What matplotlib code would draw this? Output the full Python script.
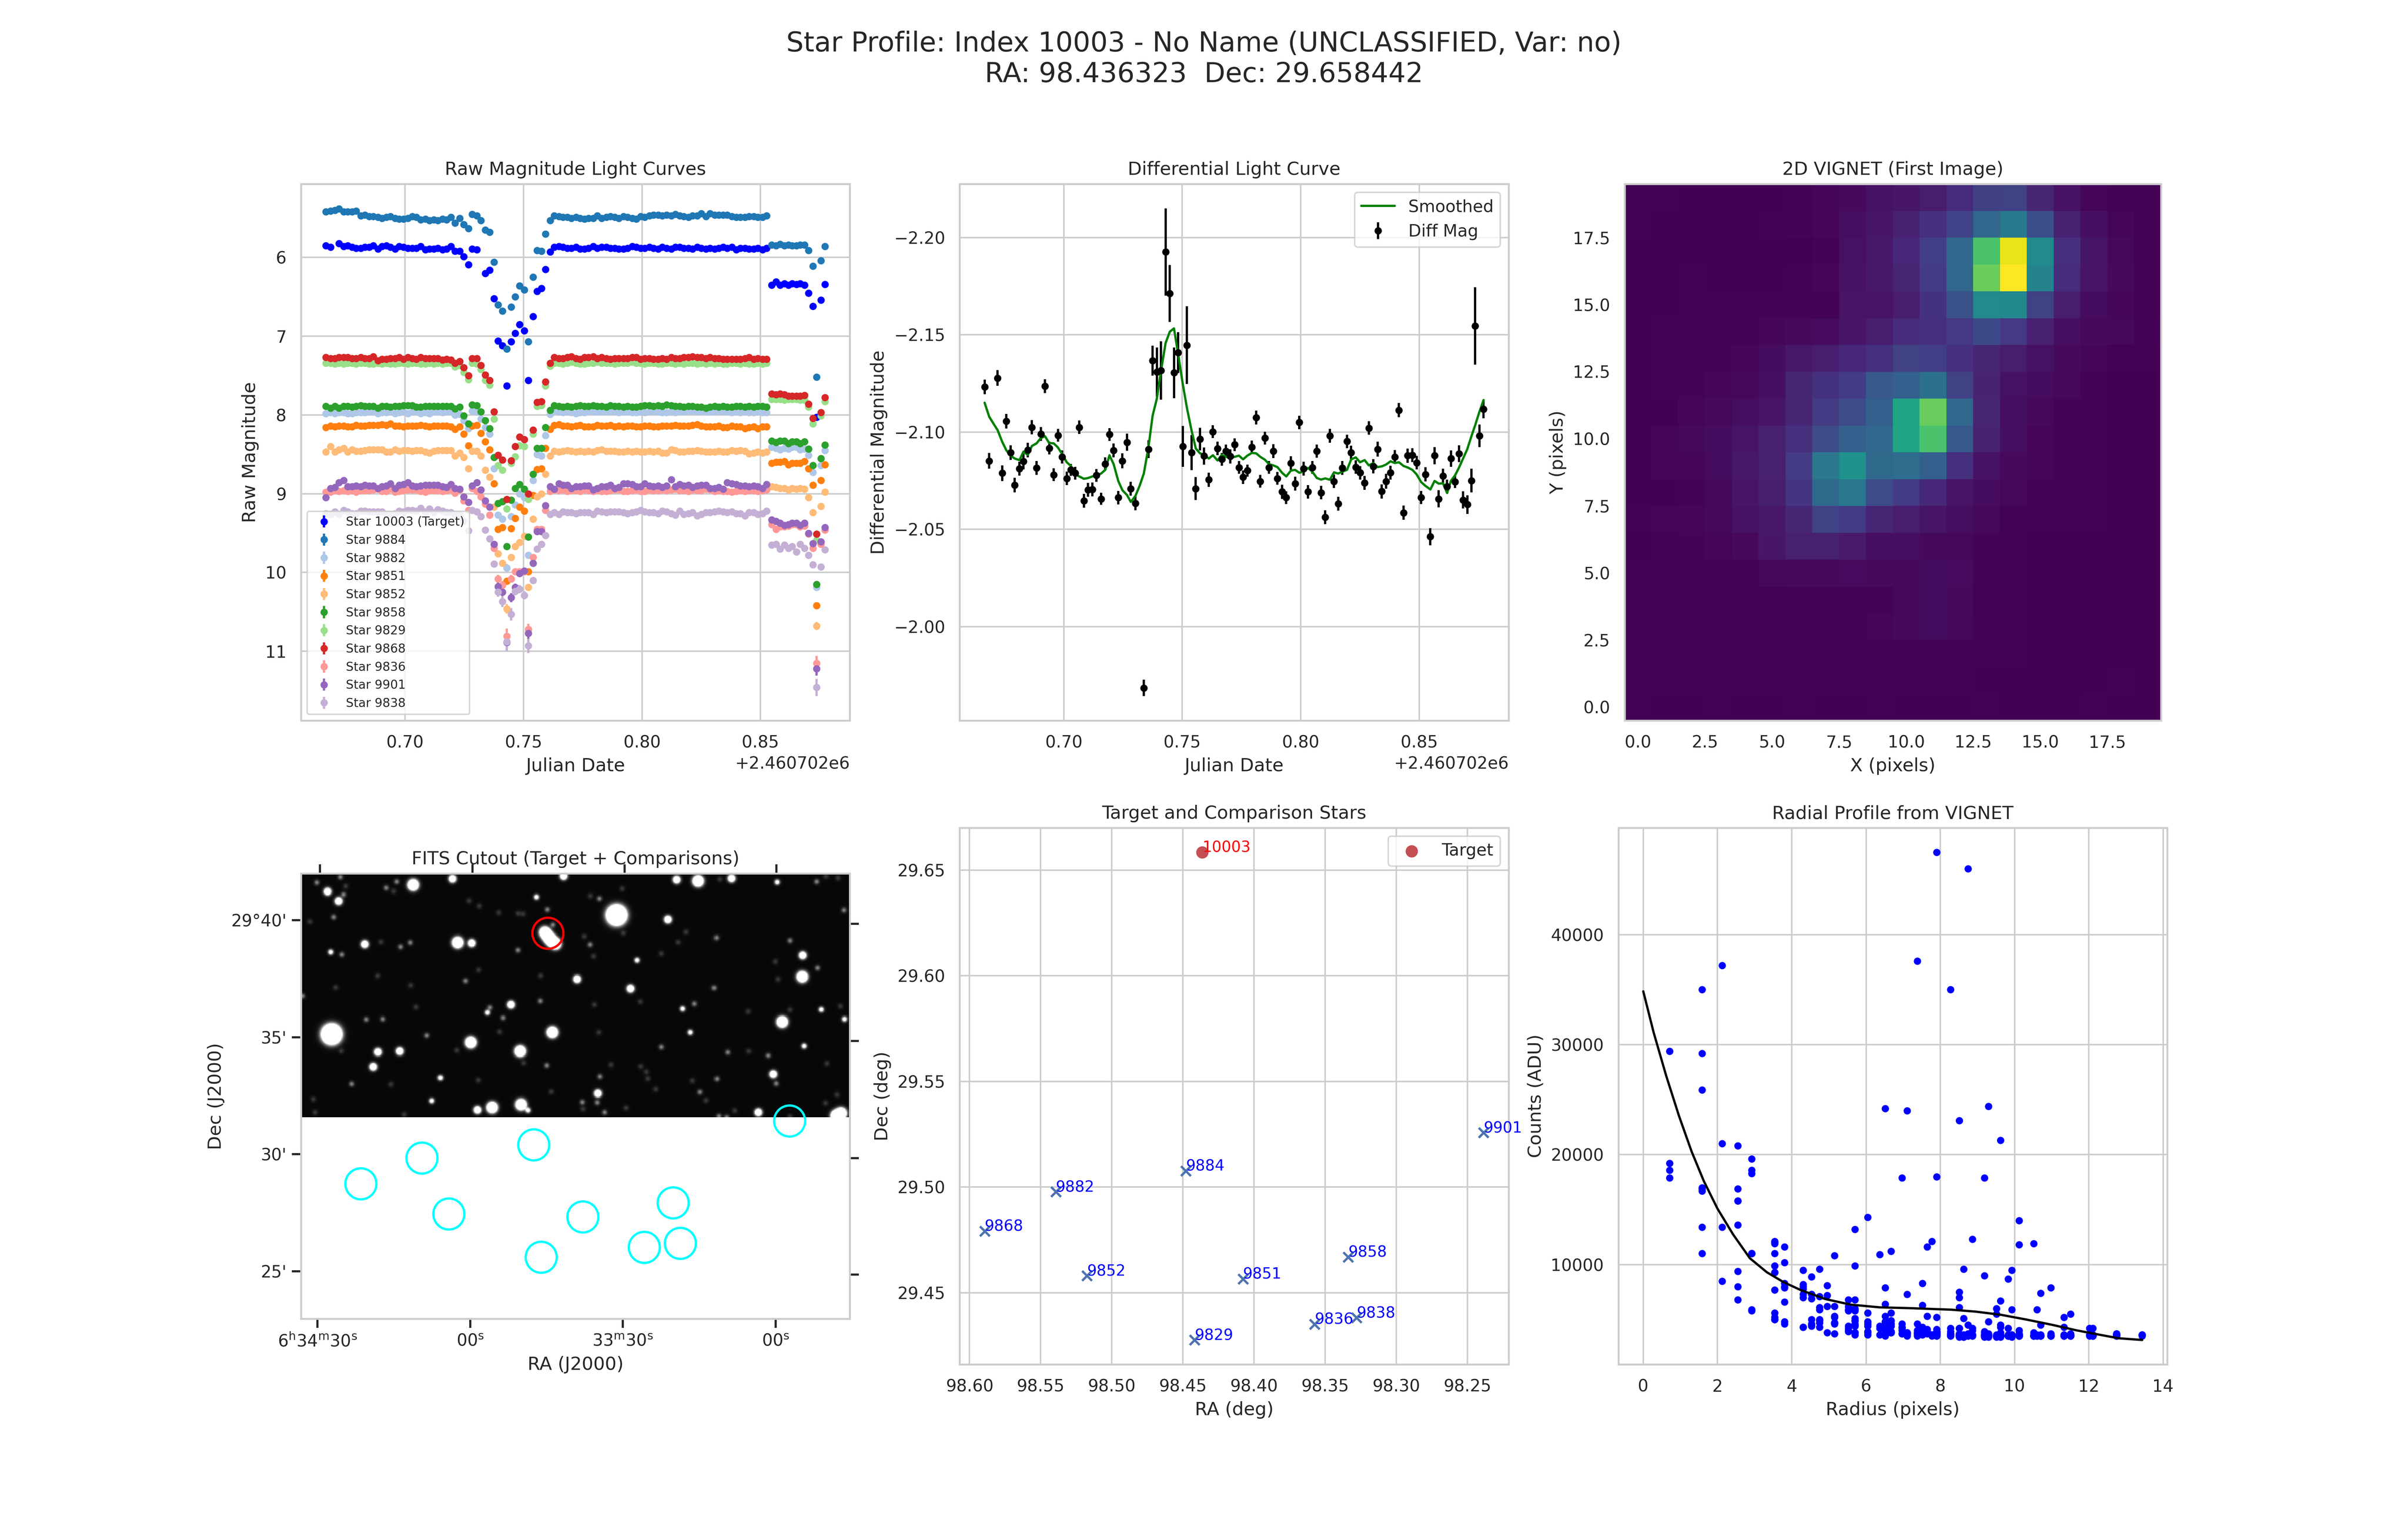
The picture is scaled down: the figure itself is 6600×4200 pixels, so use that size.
import numpy as np
import matplotlib
matplotlib.use('Agg')
import matplotlib.pyplot as plt
import seaborn as sns

nan = float('nan')

title_text = 'Star Profile: Index 10003 - No Name (UNCLASSIFIED, Var: no)\nRA: 98.436323  Dec: 29.658442'

# observation times, JD - 2460702
time = [
    .66657,.66851,.67029,.67206,.67400,.67577,.67754,.67931,.68125,.68302,
    .68479,.68656,.68850,.69027,.69204,.69381,.69576,.69752,.69929,.70124,
    .70301,.70478,.70654,.70849,.71026,.71203,.71380,.71574,.71751,.71928,
    .72105,.72299,.72476,.72671,.72830,.73024,.73201,.73378,.73573,.73749,
    .73926,.74103,.74298,.74475,.74651,.74828,.75023,.75200,.75394,.75571,
    .75748,.75925,.76119,.76296,.76491,.76668,.76845,.77022,.77216,.77393,
    .77570,.77747,.77941,.78118,.78295,.78489,.78666,.78843,.79020,.79214,
    .79391,.79586,.79763,.79940,.80116,.80311,.80488,.80682,.80859,.81036,
    .81231,.81408,.81584,.81761,.81956,.82133,.82327,.82504,.82699,.82875,
    .83070,.83247,.83424,.83601,.83795,.83972,.84149,.84343,.84520,.84715,
    .84892,.85086,.85263,.85475,.85652,.85829,.86006,.86183,.86342,.86519,
    .86678,.86855,.87032,.87209,.87368,.87545,.87722]

# raw magnitudes, one list per star
mag_10003 = [
    5.85,5.87,nan,5.82,5.86,5.85,5.87,5.88,5.88,5.87,
    5.87,5.85,5.89,5.86,5.85,5.87,5.89,5.86,5.87,5.88,
    5.88,5.88,5.86,5.90,5.89,5.89,5.88,5.90,5.89,5.86,
    5.92,5.92,5.99,6.09,5.89,5.90,nan,6.20,6.16,6.52,
    7.06,7.12,7.63,7.07,6.96,6.85,6.93,7.56,6.75,6.43,
    6.39,6.15,5.93,5.87,5.86,5.87,5.88,5.88,5.87,5.89,
    5.89,5.88,5.86,5.88,5.87,5.87,5.88,5.88,5.89,5.89,
    5.88,5.86,5.87,5.88,5.88,5.87,5.88,5.89,5.87,5.88,
    5.89,5.87,5.87,5.88,5.88,5.89,5.87,5.88,5.89,5.88,
    5.89,5.88,5.87,5.88,5.87,5.90,5.88,5.88,5.89,5.89,
    5.88,5.90,5.88,6.35,6.31,6.35,6.33,6.35,6.33,6.34,
    6.33,6.35,6.45,6.62,8.03,6.54,6.34]
mag_9884 = [
    5.42,5.41,5.40,5.38,5.42,5.42,5.42,5.41,5.47,5.46,
    5.48,5.48,5.49,5.50,5.49,5.48,5.50,5.51,5.51,5.50,
    5.48,5.49,5.52,5.51,5.53,5.52,5.53,5.51,5.52,5.49,
    5.56,5.50,5.58,5.63,5.45,5.47,5.53,5.65,5.68,6.06,
    6.60,6.68,7.16,6.63,6.50,6.36,6.41,7.07,6.25,5.91,
    5.92,5.70,5.53,5.47,5.48,5.49,5.49,5.50,5.49,5.50,
    5.51,5.50,5.50,5.47,5.50,5.49,5.48,5.49,5.50,5.48,
    5.49,5.50,5.51,5.48,5.49,5.47,5.46,5.46,5.47,5.46,
    5.47,5.45,5.47,5.48,5.49,5.47,5.47,5.44,5.48,5.44,
    5.46,5.46,5.46,5.46,5.48,5.49,5.49,5.49,5.48,5.48,
    5.49,5.49,5.47,5.84,5.85,5.83,5.85,5.84,5.85,5.85,
    5.84,5.84,5.91,6.11,7.52,6.04,5.86]
mag_9882 = [
    7.98,7.97,7.98,7.97,7.97,7.98,7.98,7.97,7.97,7.97,
    7.96,7.96,7.98,7.97,7.97,7.96,7.98,7.97,7.96,7.98,
    7.96,7.96,7.98,7.97,7.98,7.96,7.96,7.97,7.96,7.96,
    8.00,7.99,8.07,8.17,7.95,7.96,8.05,8.16,8.24,8.68,
    9.27,9.32,9.94,9.29,9.14,9.00,9.05,9.78,8.83,8.50,
    8.52,8.26,7.99,7.95,7.96,7.97,7.96,7.97,7.98,7.97,
    7.97,7.95,7.96,7.96,7.96,7.96,7.95,7.96,7.97,7.96,
    7.96,7.97,7.97,7.96,7.97,7.96,7.95,7.96,7.97,7.97,
    7.96,7.97,7.95,7.96,7.95,7.95,7.96,7.95,7.96,7.96,
    7.96,7.95,7.96,7.96,7.97,7.96,7.97,7.96,7.97,7.97,
    7.96,7.97,7.97,8.41,8.42,8.44,8.42,8.43,8.41,8.41,
    8.44,8.43,8.51,8.73,10.19,8.64,8.45]
mag_9851 = [
    8.16,8.14,8.15,8.14,8.14,8.15,8.15,8.13,8.14,8.14,
    8.13,8.13,8.13,8.12,8.13,8.11,8.14,8.14,8.15,8.14,
    8.14,8.14,8.13,8.14,8.15,8.14,8.14,8.14,8.14,8.15,
    8.18,8.15,8.24,8.39,8.14,8.13,8.23,8.34,8.44,8.87,
    9.45,9.43,10.11,9.44,9.31,9.17,9.22,9.99,9.02,8.69,
    8.68,8.42,8.18,8.13,8.12,8.14,8.14,8.15,8.14,8.13,
    8.15,8.15,8.15,8.13,8.14,8.14,8.13,8.15,8.14,8.15,
    8.14,8.14,8.15,8.15,8.14,8.14,8.15,8.15,8.14,8.14,
    8.14,8.13,8.14,8.14,8.14,8.13,8.12,8.14,8.15,8.15,
    8.15,8.14,8.16,8.16,8.14,8.15,8.15,8.17,8.16,8.15,
    8.17,8.15,8.15,8.61,8.60,8.60,8.59,8.63,8.61,8.61,
    8.61,8.59,8.68,8.89,10.42,8.83,8.63]
mag_9852 = [
    8.47,8.40,8.47,8.44,8.42,8.47,8.44,8.46,8.46,8.45,
    8.44,8.44,8.44,8.44,8.47,8.47,8.44,8.46,8.45,8.45,
    8.46,8.45,8.45,8.47,8.48,8.46,8.45,8.45,8.45,8.45,
    8.52,8.48,8.54,8.68,8.46,8.46,8.52,8.70,8.79,9.17,
    9.76,9.88,10.46,9.81,9.67,9.62,9.54,10.19,9.32,9.04,
    9.00,8.75,8.52,8.46,8.47,8.46,8.45,8.46,8.47,8.46,
    8.47,8.46,8.47,8.45,8.44,8.46,8.46,8.46,8.47,8.47,
    8.46,8.47,8.46,8.47,8.47,8.46,8.47,8.46,8.48,8.48,
    8.44,8.45,8.47,8.47,8.46,8.46,8.45,8.46,8.47,8.47,
    8.47,8.46,8.47,8.47,8.45,8.46,8.45,8.46,8.49,8.48,
    8.47,8.48,8.47,8.91,8.92,8.93,8.93,8.95,8.93,8.94,
    8.93,8.94,9.05,9.24,10.68,9.16,8.98]
mag_9858 = [
    7.89,7.91,7.89,7.91,7.89,7.89,7.90,7.89,7.88,7.89,
    7.89,7.89,7.91,7.89,7.89,7.90,7.89,7.89,7.88,7.88,
    7.88,7.90,7.90,7.89,7.89,7.89,7.89,7.89,7.89,7.89,
    7.92,7.90,8.01,8.11,7.87,7.88,7.96,8.07,8.17,8.54,
    9.12,9.10,9.67,9.08,8.93,8.88,8.94,9.55,8.75,8.42,
    8.42,8.16,7.94,7.88,7.89,7.90,7.89,7.90,7.89,7.88,
    7.89,7.89,7.88,7.89,7.89,7.90,7.88,7.89,7.89,7.90,
    7.89,7.90,7.90,7.89,7.88,7.88,7.89,7.88,7.89,7.87,
    7.88,7.89,7.89,7.90,7.89,7.89,7.90,7.90,7.91,7.90,
    7.89,7.90,7.89,7.90,7.90,7.89,7.89,7.90,7.89,7.90,
    7.89,7.89,7.90,8.33,8.35,8.33,8.33,8.36,8.34,8.34,
    8.36,8.34,8.43,8.64,10.15,8.55,8.38]
mag_9829 = [
    7.34,7.34,7.35,7.34,7.35,7.34,7.34,7.35,7.34,7.34,
    7.35,7.35,7.34,7.35,7.34,7.35,7.35,7.34,7.34,7.35,
    7.34,7.34,7.35,7.35,7.34,7.35,7.34,7.35,7.34,7.34,
    7.39,7.37,7.46,7.55,7.34,7.35,7.42,7.56,7.62,8.05,
    8.64,8.70,9.19,8.61,8.53,8.39,8.40,9.07,8.24,7.89,
    7.88,7.63,7.38,7.34,7.34,7.35,7.34,7.33,7.34,7.35,
    7.35,7.34,7.34,7.33,7.34,7.34,7.34,7.35,7.34,7.34,
    7.34,7.33,7.34,7.34,7.35,7.34,7.34,7.35,7.35,7.34,
    7.34,7.35,7.34,7.35,7.34,7.34,7.35,7.34,7.35,7.34,
    7.35,7.34,7.35,7.35,7.34,7.34,7.35,7.34,7.35,7.35,
    7.34,7.35,7.34,7.80,7.80,7.80,7.81,7.80,7.80,7.80,
    7.81,7.81,7.90,8.11,9.59,8.01,7.83]
mag_9868 = [
    7.27,7.28,7.28,7.27,7.27,7.27,7.28,7.28,7.27,7.28,
    7.28,7.26,7.31,7.29,7.29,7.28,7.28,7.27,7.29,7.27,
    7.28,7.29,7.27,7.28,7.28,7.28,7.28,7.30,7.29,7.30,
    7.34,7.32,7.40,7.50,7.28,7.28,7.37,7.49,7.56,7.96,
    8.51,8.57,9.07,8.58,8.40,8.28,8.31,9.00,8.19,7.84,
    7.83,7.58,7.34,7.27,7.28,7.28,7.27,7.26,7.28,7.29,
    7.27,7.27,7.26,7.28,7.27,7.28,7.29,7.28,7.28,7.28,
    7.28,7.27,7.27,7.29,7.28,7.28,7.29,7.29,7.28,7.29,
    7.27,7.28,7.28,7.27,7.27,7.26,7.27,7.27,7.28,7.27,
    7.28,7.28,7.29,7.29,7.29,7.29,7.29,7.28,7.27,7.29,
    7.28,7.29,7.29,7.73,7.74,7.73,7.74,7.76,7.76,7.76,
    7.76,7.75,7.86,8.04,9.51,7.97,7.78]
mag_9836 = [
    8.98,8.98,8.96,8.97,8.96,8.97,8.96,8.98,8.96,8.96,
    8.96,8.95,8.94,8.97,8.97,8.94,8.98,8.97,8.96,8.95,
    8.95,8.95,8.97,8.98,8.96,8.96,8.96,8.97,8.96,8.95,
    8.99,8.95,9.09,9.21,8.93,8.97,9.04,9.13,9.27,9.69,
    10.08,10.16,10.81,10.08,9.99,9.99,9.99,10.72,9.81,9.45,
    9.45,9.21,8.97,8.95,8.96,8.95,8.97,8.96,8.96,8.97,
    8.95,8.96,8.97,8.96,8.97,8.97,8.96,8.95,8.95,8.97,
    8.97,8.96,8.95,8.97,8.97,8.95,8.96,8.96,8.95,8.96,
    8.95,8.94,8.96,8.96,8.97,8.95,8.96,8.96,8.94,8.95,
    8.97,8.96,8.97,8.97,8.98,8.97,8.96,8.97,8.96,8.96,
    8.97,8.96,8.95,9.39,9.45,9.42,9.42,9.41,9.39,9.39,
    9.42,9.41,9.51,9.69,11.15,9.64,9.46]
mag_9901 = [
    9.05,8.93,8.92,8.86,8.83,8.91,8.91,8.90,8.91,8.89,
    8.90,8.90,8.93,8.91,8.90,8.87,8.93,8.89,8.88,8.86,
    8.90,8.91,8.90,8.89,8.89,8.89,8.89,8.91,8.92,8.88,
    8.93,8.94,9.04,9.11,8.90,8.86,8.95,9.09,9.17,9.64,
    10.18,10.25,10.89,10.32,10.19,10.01,9.98,10.77,9.88,9.48,
    9.48,9.15,8.91,8.94,8.87,8.89,8.89,8.93,8.91,8.91,
    8.90,8.90,8.95,8.93,8.91,8.91,8.89,8.93,8.92,8.87,
    8.87,8.88,8.91,8.91,8.87,8.90,8.91,8.90,8.92,8.90,
    8.82,8.91,8.88,8.90,8.89,8.92,8.90,8.89,8.89,8.93,
    8.93,8.92,8.94,8.86,8.87,8.88,8.90,8.90,8.91,8.90,
    8.91,8.93,8.88,9.33,9.35,9.37,9.40,9.39,9.37,9.37,
    9.40,9.37,9.50,9.63,11.22,9.61,9.43]
mag_9838 = [
    9.25,9.26,9.23,9.26,9.21,9.23,9.25,9.25,9.22,9.22,
    9.23,9.23,9.23,9.23,9.26,9.26,9.25,9.22,9.23,9.21,
    9.21,9.22,9.18,9.23,9.19,9.24,9.20,9.22,9.24,9.24,
    9.26,9.26,9.35,9.47,9.21,9.23,9.29,9.46,9.57,9.89,
    10.25,10.37,10.88,10.53,10.24,10.21,10.29,10.93,10.10,9.70,
    9.64,9.53,9.26,9.24,9.26,9.23,9.24,9.24,9.25,9.24,
    9.24,9.24,9.26,9.22,9.23,9.24,9.23,9.23,9.23,9.24,
    9.25,9.24,9.23,9.21,9.23,9.24,9.24,9.25,9.22,9.23,
    9.25,9.27,9.22,9.26,9.25,9.24,9.28,9.26,9.24,9.24,
    9.23,9.22,9.23,9.24,9.23,9.25,9.25,9.28,9.24,9.24,
    9.26,9.25,9.22,9.65,9.64,9.70,9.65,9.69,9.67,9.74,
    9.64,9.69,9.78,9.90,11.46,9.93,9.71]

star_labels = ['Star 10003 (Target)', 'Star 9884', 'Star 9882', 'Star 9851', 'Star 9852', 'Star 9858',
               'Star 9829', 'Star 9868', 'Star 9836', 'Star 9901', 'Star 9838']
star_mags = [mag_10003, mag_9884, mag_9882, mag_9851, mag_9852, mag_9858,
             mag_9829, mag_9868, mag_9836, mag_9901, mag_9838]

# error bars that can be seen at all, by time index; everything else is tiny
small_err = 0.004
big_err_9882 = {42: .05, 47: .04, 114: .02}
big_err_9851 = {42: .03, 46: .03, 114: .03}
big_err_9852 = {41: .03, 42: .06, 48: .04, 114: .05}
big_err_9858 = {114: .02}
big_err_9836 = {40: .05, 41: .05, 42: .10, 43: .05, 44: .03, 45: .02, 46: .02, 47: .07, 114: .09}
big_err_9901 = {40: .05, 41: .05, 42: .11, 43: .06, 44: .05, 47: .07, 114: .09}
big_err_9838 = {39: .03, 40: .06, 41: .07, 42: .12, 43: .08, 44: .05, 45: .05, 46: .05, 47: .09, 48: .03, 114: .11}
star_big_err = [{}, {}, big_err_9882, big_err_9851, big_err_9852, big_err_9858, {}, {},
                big_err_9836, big_err_9901, big_err_9838]

# differential light curve: two time indices (2 and 36) have no value
diff_missing = [2, 36]
diff_mag = [
    -2.1232,-2.0852,-2.1278,-2.0789,-2.1056,-2.0895,-2.0728,-2.0812,-2.0849,-2.0908,
    -2.1025,-2.0816,-2.0990,-2.1236,-2.0918,-2.0781,-2.0983,-2.0872,-2.0762,-2.0806,
    -2.0789,-2.1025,-2.0647,-2.0703,-2.0705,-2.0778,-2.0657,-2.0837,-2.0988,-2.0906,
    -2.0663,-2.0852,-2.0948,-2.0709,-2.0634,-1.9685,-2.0912,-2.1368,-2.1309,-2.1316,
    -2.1926,-2.1713,-2.1305,-2.1408,-2.0927,-2.1447,-2.0895,-2.0709,-2.0964,-2.0877,
    -2.0755,-2.1002,-2.0916,-2.0860,-2.0902,-2.0875,-2.0935,-2.0818,-2.0768,-2.0802,
    -2.0923,-2.1075,-2.0747,-2.0969,-2.0818,-2.0902,-2.0762,-2.0693,-2.0663,-2.0841,
    -2.0735,-2.1050,-2.0812,-2.0693,-2.0818,-2.0902,-2.0689,-2.0563,-2.0981,-2.0747,
    -2.0632,-2.0816,-2.0952,-2.0895,-2.0820,-2.0791,-2.0739,-2.1021,-2.0824,-2.0912,
    -2.0695,-2.0747,-2.0791,-2.0873,-2.1113,-2.0586,-2.0879,-2.0881,-2.0843,-2.0664,
    -2.0783,-2.0463,-2.0879,-2.0657,-2.0774,-2.0720,-2.0864,-2.0745,-2.0889,-2.0651,
    -2.0628,-2.0751,-2.1545,-2.0981,-2.1117]
diff_err = [
    .0038,.0040,.0040,.0040,.0038,.0038,.0038,.0036,.0040,.0038,
    .0036,.0035,.0036,.0035,.0033,.0033,.0033,.0033,.0035,.0031,
    .0033,.0035,.0035,.0035,.0035,.0033,.0031,.0033,.0033,.0035,
    .0035,.0038,.0044,.0036,.0035,.0042,.0046,.0077,.0125,.0150,
    .0224,.0146,.0130,.0105,.0105,.0199,.0090,.0059,.0058,.0044,
    .0036,.0033,.0035,.0033,.0033,.0036,.0033,.0033,.0035,.0031,
    .0033,.0035,.0033,.0033,.0033,.0035,.0033,.0036,.0033,.0035,
    .0036,.0035,.0035,.0035,.0033,.0033,.0035,.0036,.0035,.0035,
    .0035,.0035,.0035,.0035,.0035,.0035,.0036,.0035,.0036,.0038,
    .0036,.0038,.0036,.0035,.0036,.0036,.0036,.0036,.0035,.0033,
    .0036,.0044,.0044,.0044,.0038,.0035,.0042,.0033,.0044,.0044,
    .0048,.0061,.0199,.0058,.0046]
smoothed = [
    -2.1151,-2.1079,-2.1044,-2.1010,-2.0950,-2.0906,-2.0879,-2.0864,-2.0856,-2.0900,
    -2.0883,-2.0929,-2.0942,-2.0969,-2.0979,-2.0944,-2.0942,-2.0921,-2.0887,-2.0845,
    -2.0826,-2.0783,-2.0772,-2.0760,-2.0764,-2.0772,-2.0778,-2.0787,-2.0806,-2.0881,
    -2.0835,-2.0749,-2.0701,-2.0676,-2.0641,-2.0672,-2.0724,-2.0787,-2.0921,-2.1084,
    -2.1171,-2.1314,-2.1458,-2.1516,-2.1533,-2.1401,-2.1247,-2.1123,-2.1008,-2.0916,
    -2.0891,-2.0883,-2.0864,-2.0881,-2.0854,-2.0883,-2.0873,-2.0868,-2.0873,-2.0879,
    -2.0860,-2.0879,-2.0893,-2.0891,-2.0873,-2.0858,-2.0835,-2.0829,-2.0820,-2.0791,
    -2.0772,-2.0802,-2.0806,-2.0791,-2.0797,-2.0816,-2.0797,-2.0764,-2.0756,-2.0762,
    -2.0755,-2.0793,-2.0787,-2.0797,-2.0806,-2.0860,-2.0870,-2.0845,-2.0856,-2.0829,
    -2.0841,-2.0820,-2.0824,-2.0833,-2.0850,-2.0841,-2.0845,-2.0826,-2.0818,-2.0806,
    -2.0783,-2.0743,-2.0724,-2.0705,-2.0749,-2.0735,-2.0737,-2.0687,-2.0749,-2.0778,
    -2.0816,-2.0864,-2.0912,-2.0979,-2.1036,-2.1104,-2.1165]

# VIGNET postage stamp, thousands of ADU, row 0 at the bottom
vignet_kadu = [
    [3.6,3.5,3.5,3.6,3.5,3.5,3.6,3.5,3.5,3.6,3.5,3.5,3.5,3.6,3.5,3.5,3.5,3.6,3.5,3.5],
    [3.6,3.6,3.6,3.6,3.6,3.6,3.6,3.6,3.6,3.6,3.6,3.6,3.6,3.5,3.5,3.5,3.5,3.5,3.6,3.5],
    [3.6,3.6,3.6,3.6,3.7,3.7,3.7,3.7,3.8,3.8,3.9,3.9,3.9,3.7,3.6,3.5,3.5,3.5,3.5,3.5],
    [3.6,3.6,3.6,3.6,3.6,3.7,3.7,3.7,3.8,4.0,4.4,4.9,4.6,3.8,3.6,3.5,3.5,3.5,3.5,3.5],
    [3.6,3.6,3.6,3.6,3.6,3.7,3.7,3.8,3.8,3.9,4.4,4.9,4.6,3.7,3.6,3.5,3.5,3.5,3.5,3.5],
    [3.6,3.8,3.6,3.7,3.8,4.4,4.6,4.6,4.7,4.5,4.4,4.9,4.7,3.8,3.6,3.5,3.5,3.5,3.5,3.5],
    [3.5,3.8,3.9,4.0,4.6,6.0,7.2,7.3,6.6,5.0,5.2,4.6,4.3,3.8,3.6,3.5,3.5,3.5,3.5,3.5],
    [3.6,4.0,4.1,4.3,5.6,6.2,8.2,11.9,11.0,8.0,6.8,5.9,5.0,4.3,3.7,3.6,3.7,3.6,3.5,3.5],
    [3.5,3.5,3.9,4.4,5.9,7.1,10.2,18.6,21.0,13.4,11.0,8.5,5.8,4.8,4.3,3.8,3.8,3.8,3.4,3.4],
    [3.5,4.2,4.1,4.8,6.2,7.3,11.0,20.8,25.9,18.6,19.2,16.9,9.4,5.6,4.6,4.0,3.7,3.6,3.5,3.5],
    [3.5,4.2,4.3,4.8,5.9,7.3,9.3,13.6,17.0,17.9,29.4,35.0,15.8,7.7,5.0,4.2,3.8,3.7,3.5,3.4],
    [3.5,3.5,4.1,4.6,5.1,5.9,7.9,11.0,13.4,16.7,29.2,37.2,18.3,8.0,5.0,4.4,3.9,3.7,3.4,3.5],
    [3.5,3.6,3.9,4.2,4.4,5.2,8.0,9.9,11.0,15.8,16.9,19.6,12.0,7.8,5.3,4.8,4.3,3.8,3.5,3.5],
    [3.5,3.6,3.6,3.8,4.1,4.9,6.2,7.0,8.3,9.3,12.1,11.6,9.5,8.1,6.8,5.3,4.6,4.2,3.6,3.6],
    [3.5,3.6,3.6,3.7,3.7,4.2,4.5,4.7,6.1,6.9,8.9,9.6,10.8,13.2,10.9,7.3,5.2,4.5,4.3,3.8],
    [3.5,3.5,3.6,3.7,3.6,3.8,3.9,3.9,5.8,5.8,6.8,9.9,14.3,24.2,24.0,12.1,7.0,4.8,4.0,3.7],
    [3.5,3.5,3.6,3.4,3.4,3.5,3.6,4.0,5.6,6.4,7.9,11.2,17.9,37.6,47.5,23.1,9.0,5.9,4.5,3.7],
    [3.5,3.5,3.5,3.4,3.4,3.5,3.5,3.8,5.3,6.3,8.3,11.6,18.0,35.0,46.0,24.4,9.5,5.9,4.3,3.6],
    [3.6,3.5,3.5,3.5,3.5,3.6,3.9,4.2,5.1,6.1,7.5,9.6,12.3,17.9,21.3,14.0,7.4,5.2,4.2,3.7],
    [3.6,3.6,3.5,3.5,3.5,3.5,3.7,4.2,4.5,5.5,6.0,6.7,8.7,11.8,11.9,7.9,5.5,4.2,3.7,3.6]]

# mean radial profile drawn over the stamp pixels
profile_r = [0,.28,.62,.96,1.3,1.63,2.0,2.42,2.87,3.33,3.78,4.23,4.9,5.58,6.37,7.16,8.29,8.96,9.64,10.32,11.0,11.67,12.23,12.8,13.44]
profile_adu = [34850,31100,27140,23540,20300,17600,15080,12740,10580,9300,8400,7700,6870,6360,6110,6040,5900,5720,5430,5000,4530,4020,3660,3300,3143]

# target and comparison positions
target_ra = 98.436323
target_dec = 29.658442
comp_ids = ['9868','9882','9852','9884','9829','9851','9836','9858','9838','9901']
comp_ra = [98.5894,98.5394,98.5174,98.4479,98.4418,98.4077,98.3574,98.3338,98.3279,98.2385]
comp_dec = [29.4792,29.4978,29.4581,29.5077,29.4277,29.4566,29.4352,29.4670,29.4382,29.5258]

# stars in the cutout, (column, row from the top) in image pixels, by brightness
huge_stars = [(27.5,145.3),(287.5,37.5)]
large_stars = [(102,10.2),(142.3,62.3),(231.7,63.5),(154.3,152.8),(199.4,160.7),(228.8,143.6),(173.8,211.6),(200.2,209),
    (222,53.1),(225,57),(227.7,60.5),(362,6.7),(456.8,93.3),(438.5,134.2),(487.8,219),(492.4,216.8)]
medium_stars = [(23.8,16.2),(33.9,24.8),(57.8,63.8),(137.6,4.7),(239.1,2.2),(155.1,62.8),(191,118.6),(69.8,161.4),(89.7,160.7),
    (65.5,174.8),(160.4,213.8),(342.4,5.5),(392.2,4.3),(334.4,41.5),(457.2,73.9),(251.4,95.5),(300.2,104),(430.3,181.5),
    (270.4,198.9),(416.7,216)]
small_stars = [(26.7,70.9),(214.3,21.2),(169.5,125.7),(126.7,184.8),(118.9,205.6),(206.6,214.1),(433.9,7.7),(306.2,78.4),
    (474.2,123),(495.4,131.7),(347.8,122.3),(354.8,143.6),(458.5,156.1)]
faint_stars = [(35.5,3.1),(14,8.1),(38.4,18.9),(29.4,39.4),(36.8,73.2),(90.5,66.2),(99.3,62.3),(77.4,12.9),(87,7.3),(224.2,32.5),
    (229.3,46.4),(197.4,69.2),(149.5,97),(171.8,121.2),(183.8,130.5),(217.8,115.3),(59.1,132),(74.2,131.7),(114.4,146.5),
    (45.8,190.4),(223.7,173.6),(0.9,110.8),(470,7.3),(271.8,22.6),(263.3,64.2),(378.6,58),(445.6,60.5),(470.8,85.4),(494.9,33),
    (376.4,103.4),(358.5,117.8),(328.4,157),(388.8,161.7),(425.7,164.7),(433,190),(272.3,183.7),(379,185.8),(363.6,197.7),
    (256.2,206.8),(269.8,207.1),(276.6,216),(380.7,219.5),(387.8,220.5)]
dim_stars = [(40.3,11.4),(7.6,43.4),(72.5,61.7),(84.1,15.9),(179.8,35.2),(162,29.3),(152.7,24.5),(197.4,36),(202.1,36.4),
    (161.5,87.3),(36.3,160.5),(202.6,171.4),(161.2,187),(93.7,218),(12.4,216),(10.8,204.1),(104.5,120.8),(99.8,101),(31.2,102.9),
    (69.5,92.5),(81.7,190.7),(141.5,159.9),(180.6,143.1),(227.7,197.4),(218.1,92.5),(381.5,5.2),(489.5,4),(478.4,2.5),(263.6,20.3),
    (292.6,13.6),(293.6,53.8),(257.9,56.8),(266.4,74.7),(343.7,62),(434.6,95.6),(432.2,79.6),(350.9,52.8),(328.3,72.4),(491.7,120),
    (309.2,115.9),(267.2,118.6),(445.6,123.3),(407.4,124.8),(271.3,143.6),(407.9,160.7),(479.3,171.8),(282.4,172.9),(309.6,174.4),
    (314.7,179.3),(316,185.5),(356.8,187.5),(323.3,195.2),(369.1,205.2),(256.8,213),(296.1,212),(395.1,214.5),(445.6,220),
    (488.6,200.1),(478.1,207.6)]

# brightness class: stars, peak, sigma (pixels)
star_classes = [(huge_stars, 8.0, 4.6), (large_stars, 4.0, 2.8), (medium_stars, 2.4, 2.1),
                (small_stars, 1.3, 1.6), (faint_stars, 0.5, 1.6), (dim_stars, 0.2, 1.7)]

# cutout axis scale: RA in seconds after 6h33m00s, Dec in arcmin after 29 deg
ra_left, ra_right = 93.22, -14.6
dec_bottom, dec_top = 22.97, 42.0
dec_image_bottom = 31.58
ra_ticks = [90, 60, 30, 0]
ra_tick_labels = [r'$\mathregular{6^h34^m30^s}$', r'$\mathregular{00^s}$', r'$\mathregular{33^m30^s}$', r'$\mathregular{00^s}$']
dec_ticks = [40, 35, 30, 25]
dec_tick_labels = ["29\u00b040'", "35'", "30'", "25'"]
ra_ticks_top = [89.48, 59.57, 29.65, -0.17]
dec_ticks_right = [39.84, 34.84, 29.84, 24.86]
dec_tilt = 0.144

sns.set_theme(style='whitegrid')
plt.rcParams['font.family'] = ['DejaVu Sans']

fig, axes = plt.subplots(2, 3, figsize=(22, 14))
fig.suptitle(title_text, fontsize=18)
jd0 = 2460702

# raw light curves
ax = axes[0, 0]
jd = np.array(time) + jd0
colors = ['blue'] + list(plt.get_cmap('tab20').colors[:10])
for label, mags, big_err, color in zip(star_labels, star_mags, star_big_err, colors):
    err = np.full(len(time), small_err)
    for i in big_err:
        err[i] = big_err[i]
    ax.errorbar(jd, mags, yerr=err, fmt='o', ms=3.8, color=color, label=label)
ax.invert_yaxis()
ax.set_xlabel('Julian Date')
ax.set_ylabel('Raw Magnitude')
ax.set_title('Raw Magnitude Light Curves')
ax.legend(fontsize=8, loc='lower left')

# differential light curve
ax = axes[0, 1]
diff_jd = np.delete(jd, diff_missing)
ax.errorbar(diff_jd, diff_mag, yerr=diff_err, fmt='o', ms=3.8, color='black', label='Diff Mag')
ax.plot(jd, smoothed, color='green', label='Smoothed')
ax.invert_yaxis()
ax.set_xlabel('Julian Date')
ax.set_ylabel('Differential Magnitude')
ax.set_title('Differential Light Curve')
ax.legend(loc='upper right')

# stamp
ax = axes[0, 2]
vignet = np.array(vignet_kadu) * 1000
ax.imshow(vignet, origin='lower', cmap='viridis')
ax.grid(False)
ax.set_xlabel('X (pixels)')
ax.set_ylabel('Y (pixels)')
ax.set_title('2D VIGNET (First Image)')

# cutout, the sky frame only covers the upper part of the axes
ax = axes[1, 0]
rows, cols = np.mgrid[0:221, 0:501]
sky = np.full(rows.shape, 0.03)
for stars, peak, sigma in star_classes:
    for col, row in stars:
        sky += peak * np.exp(-((cols - col) ** 2 + (rows - row) ** 2) / (2 * sigma ** 2))
ax.imshow(sky, origin='upper', cmap='gray', vmin=0, vmax=1,
          extent=(ra_left, ra_right, dec_image_bottom, dec_top))
ax.set_xlim(ra_left, ra_right)
ax.set_ylim(dec_bottom, dec_top)
ax.set_aspect(4 / np.cos(np.radians(29.5)))
ax.grid(False)
ax.set_xticks(ra_ticks, labels=ra_tick_labels)
ax.set_yticks(dec_ticks, labels=dec_tick_labels)
ax.tick_params(bottom=True, left=True, length=6, width=1.4, direction='out', color='.15')
top_axis = ax.secondary_xaxis('top')
top_axis.set_xticks(ra_ticks_top, labels=[])
top_axis.tick_params(top=True, length=6, width=1.4, direction='out', color='.15')
right_axis = ax.secondary_yaxis('right')
right_axis.set_yticks(dec_ticks_right, labels=[])
right_axis.tick_params(right=True, length=6, width=1.4, direction='out', color='.15')
for extra in (top_axis, right_axis):
    for spine in extra.spines.values():
        spine.set_visible(False)
    extra.grid(False)

def to_cutout(ra, dec):
    ra_sec = (np.asarray(ra) - 98.25) * 240
    dec_min = (np.asarray(dec) - 29) * 60 - dec_tilt * (ra_left - ra_sec) / (ra_left - ra_right)
    return ra_sec, dec_min

x, y = to_cutout(comp_ra, comp_dec)
ax.scatter(x, y, s=416, facecolors='none', edgecolors='cyan', linewidths=1.5, clip_on=False)
x, y = to_cutout(target_ra, target_dec)
ax.scatter(x, y, s=416, facecolors='none', edgecolors='red', linewidths=1.5)
ax.set_xlabel('RA (J2000)')
ax.set_ylabel('Dec (J2000)')
ax.set_title('FITS Cutout (Target + Comparisons)', y=1.0)

# positions
ax = axes[1, 1]
ax.scatter(comp_ra, comp_dec, c='#4c72b0', marker='x', s=42)
ax.scatter([target_ra], [target_dec], c='#c44e52', s=50, label='Target')
ax.text(target_ra, target_dec, '10003', color='red', fontsize=10)
for star_id, ra, dec in zip(comp_ids, comp_ra, comp_dec):
    ax.text(ra, dec, star_id, color='blue', fontsize=10)
ax.invert_xaxis()
ax.set_xlabel('RA (deg)')
ax.set_ylabel('Dec (deg)')
ax.set_title('Target and Comparison Stars')
ax.legend(loc='upper right')

# radial profile, one dot per stamp pixel
ax = axes[1, 2]
yy, xx = np.indices(vignet.shape)
radius = np.hypot(xx - 9.5, yy - 9.5)
ax.plot(radius.ravel(), vignet.ravel(), 'o', ms=3.8, color='blue')
ax.plot(profile_r, profile_adu, color='black')
ax.set_xlabel('Radius (pixels)')
ax.set_ylabel('Counts (ADU)')
ax.set_title('Radial Profile from VIGNET')

fig.savefig('out.png', dpi=300)
